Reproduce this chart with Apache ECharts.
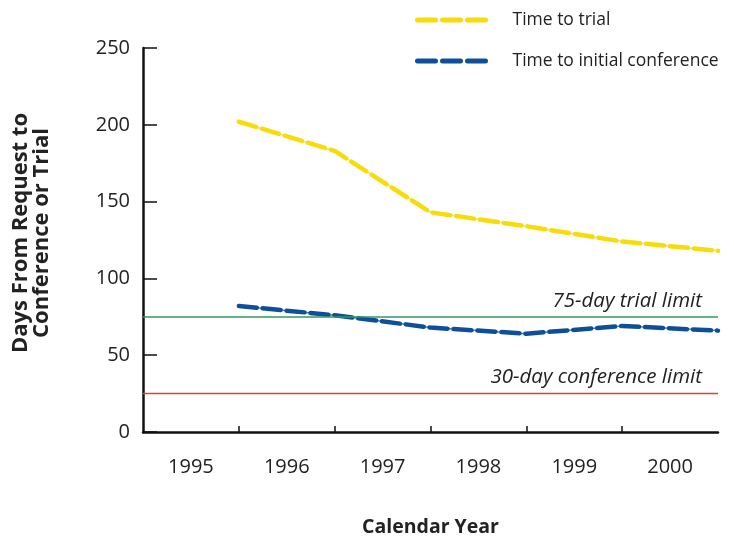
<!DOCTYPE html>
<html>
<head>
<meta charset="utf-8">
<script src="https://cdn.jsdelivr.net/npm/echarts@6/dist/echarts.min.js"></script>
<style>
    html, body { margin: 0; padding: 0; background: #fff; }
    #chart { width: 734px; height: 544px; }
</style>
</head>
<body>
<div id="chart"></div>
<script>
// year labels shown between the ticks
var years = ['1995', '1996', '1997', '1998', '1999', '2000'];
// points sit on the year boundaries (end of each year)
var pointX = [1996, 1997, 1998, 1999, 2000, 2001];
var timeToTrial = [202, 183, 143, 134, 124, 118];
var timeToConference = [82, 76, 68, 64, 69, 66];
var trialLimit = 75;
var conferenceLimit = 25;

var font = '"Open Sans", "Noto Sans", sans-serif';
var yellow = '#f7dc0a';
var blue = '#0d4f98';

function pairs(xs, ys) {
    return xs.map(function (x, i) { return [x, ys[i]]; });
}

var myChart = echarts.init(document.getElementById('chart'));
myChart.setOption({
    animation: false,
    backgroundColor: '#fff',
    grid: { left: 143, right: 16, top: 48, bottom: 112 },
    legend: {
        orient: 'vertical',
        left: 410,
        top: 6,
        itemGap: 23,
        itemWidth: 68,
        itemHeight: 16,
        itemStyle: { opacity: 0 },
        lineStyle: { width: 5, type: [18, 7] },
        textStyle: { fontFamily: font, fontSize: 17.5, color: '#222', padding: [0, 0, 0, 22] },
        data: ['Time to trial', 'Time to initial conference']
    },
    xAxis: [
        {
            type: 'value',
            min: 1995,
            max: 2001,
            interval: 1,
            axisLine: { lineStyle: { color: '#111', width: 2.5 } },
            axisTick: { show: true, inside: true, length: 6, customValues: [1996, 1997, 1998, 1999, 2000], lineStyle: { color: '#111', width: 1.5 } },
            axisLabel: { show: false },
            splitLine: { show: false },
            name: 'Calendar Year',
            nameLocation: 'middle',
            nameGap: 85,
            nameTextStyle: { fontFamily: font, fontSize: 19.5, fontWeight: 'bold', color: '#222' }
        },
        {
            type: 'category',
            position: 'bottom',
            data: years,
            boundaryGap: true,
            axisLine: { show: false },
            axisTick: { show: false },
            axisLabel: { fontFamily: font, fontSize: 20, color: '#222', margin: 25 }
        }
    ],
    yAxis: {
        type: 'value',
        min: 0,
        max: 250,
        interval: 50,
        axisLine: { show: true, lineStyle: { color: '#111', width: 2.5 } },
        axisTick: { show: true, inside: true, length: 14, lineStyle: { color: '#111', width: 1.5 } },
        axisLabel: { fontFamily: font, fontSize: 20, color: '#222', margin: 13 },
        splitLine: { show: false },
        name: 'Days From Request to\nConference or Trial',
        nameLocation: 'middle',
        nameGap: 91,
        nameTextStyle: { fontFamily: font, fontSize: 22, fontWeight: 'bold', color: '#222', lineHeight: 21, padding: [0, 0, 0, 14] }
    },
    series: [
        {
            // thin connector under the dashes
            type: 'line',
            symbol: 'none',
            silent: true,
            data: pairs(pointX, timeToTrial),
            lineStyle: { color: '#f9e65c', width: 1.5 },
            z: 3
        },
        {
            type: 'line',
            symbol: 'none',
            silent: true,
            data: pairs(pointX, timeToConference),
            lineStyle: { color: '#4f7fb8', width: 1.5 },
            z: 3
        },
        {
            name: 'Time to trial',
            type: 'line',
            symbol: 'none',
            data: pairs(pointX, timeToTrial),
            lineStyle: { color: yellow, width: 4.5, type: [18, 6], cap: 'round' },
            itemStyle: { color: yellow },
            z: 4
        },
        {
            name: 'Time to initial conference',
            type: 'line',
            symbol: 'none',
            data: pairs(pointX, timeToConference),
            lineStyle: { color: blue, width: 4.5, type: [18, 6], cap: 'round' },
            itemStyle: { color: blue },
            z: 4,
            markLine: {
                silent: true,
                symbol: 'none',
                data: [
                    {
                        yAxis: trialLimit,
                        lineStyle: { color: '#2f9a62', width: 1.5, type: 'solid' },
                        label: { formatter: '75-day trial limit', position: 'insideEndTop' }
                    },
                    {
                        yAxis: conferenceLimit,
                        lineStyle: { color: '#e23e40', width: 1.3, type: 'solid' },
                        label: { formatter: '30-day conference limit', position: 'insideEndTop' }
                    }
                ],
                label: {
                    fontFamily: font,
                    fontSize: 20.5,
                    fontStyle: 'italic',
                    color: '#222',
                    distance: [16, 6]
                }
            }
        }
    ]
});
</script>
</body>
</html>
